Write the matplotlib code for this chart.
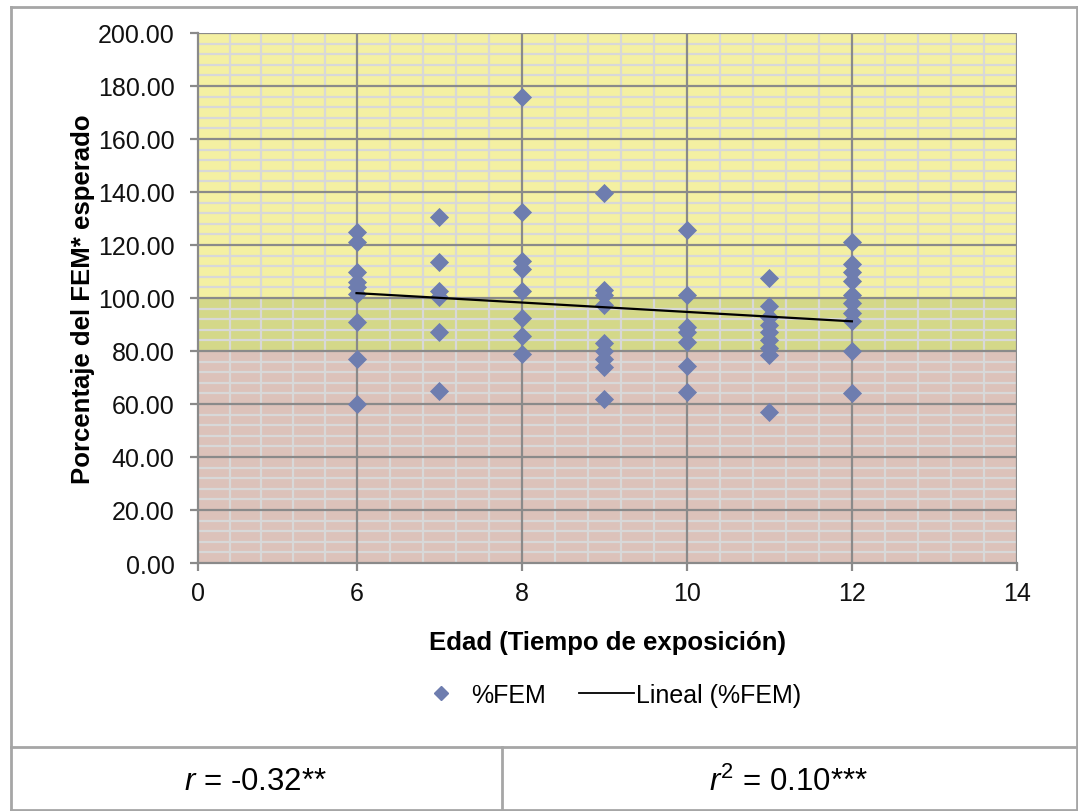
import numpy as np
import matplotlib
matplotlib.use('Agg')
import matplotlib.pyplot as plt
from matplotlib.ticker import FixedLocator, FixedFormatter
from matplotlib.lines import Line2D

plt.rcParams['font.family'] = ['Liberation Sans', 'DejaVu Sans']
plt.rcParams['mathtext.fontset'] = 'custom'
plt.rcParams['mathtext.rm'] = 'Liberation Sans'
plt.rcParams['mathtext.it'] = 'Liberation Sans:italic'

# edad (años) y %FEM esperado
edad_6 = [125, 121, 110, 106, 104, 101.5, 91, 77, 60]
edad_7 = [130.5, 113.5, 102.5, 100.5, 87, 65]
edad_8 = [176, 132.5, 114, 111, 102.5, 92.5, 85.5, 79]
edad_9 = [139.5, 103, 101, 97.5, 83, 80, 77, 74, 62]
edad_10 = [125.5, 101, 89, 87, 83.5, 74.5, 64.5]
edad_11 = [107.5, 97, 93, 90, 87, 84, 81, 78.5, 57]
edad_12 = [121, 113, 110, 106.5, 101, 98, 94.5, 91.5, 80, 64]
grupos = {6: edad_6, 7: edad_7, 8: edad_8, 9: edad_9, 10: edad_10, 11: edad_11, 12: edad_12}

tick_ages = [0, 6, 8, 10, 12, 14]
tick_labels = ['0', '6', '8', '10', '12', '14']
tick_pos = [0, 0.96, 1.96, 2.96, 3.96, 4.96]
y_ticks = np.arange(0, 201, 20)

edades = np.concatenate([[k] * len(v) for k, v in grupos.items()])
fem = np.concatenate([v for v in grupos.values()])

def to_pos(a):
    return np.interp(a, tick_ages, tick_pos)

fig = plt.figure(figsize=(10.78, 8.12), dpi=100)
ax = fig.add_axes([198 / 1078, 1 - 564 / 812, (1017 - 198) / 1078, (564 - 34) / 812])

# bandas de fondo
ax.axhspan(100, 200, color='#F4F0A2', zorder=0, lw=0)
ax.axhspan(80, 100, color='#D4D889', zorder=0, lw=0)
ax.axhspan(0, 80, color='#DCC2BA', zorder=0, lw=0)

ax.set_xlim(0, tick_pos[-1])
ax.set_ylim(0, 200)

# rejilla
minor_x = []
for a, b in zip(tick_pos[:-1], tick_pos[1:]):
    minor_x.extend(np.linspace(a, b, 6)[1:-1])
for xm in minor_x:
    ax.axvline(xm, color='#D8D8D8', lw=1.6, zorder=1)
for ym in np.arange(0, 201, 4):
    if ym % 20:
        ax.axhline(ym, color='#D8D8D8', lw=1.6, zorder=1)
for xp in tick_pos[1:]:
    ax.axvline(xp, color='#8A8A8A', lw=1.6, zorder=2)
for yt in y_ticks[1:]:
    ax.axhline(yt, color='#8A8A8A', lw=1.6, zorder=2)

ax.scatter(to_pos(edades), fem, marker='D', s=95, color='#6E7DAF', zorder=4,
           linewidths=0, label='%FEM')

# linea de tendencia (ajuste lineal)
m, b = np.polyfit(edades, fem, 1)
xt = np.array([6, 12])
ax.plot(to_pos(xt), m * xt + b, color='black', lw=1.6, zorder=5, label='Lineal (%FEM)')

ax.xaxis.set_major_locator(FixedLocator(tick_pos))
ax.xaxis.set_major_formatter(FixedFormatter(tick_labels))
ax.set_yticks(y_ticks)
ax.set_yticklabels(['%.2f' % v for v in y_ticks])

for s in ['top', 'right']:
    ax.spines[s].set_visible(False)
for s in ['left', 'bottom']:
    ax.spines[s].set_color('#8A8A8A')
    ax.spines[s].set_linewidth(1.6)
ax.tick_params(direction='out', length=6, width=1.6, color='#8A8A8A',
               labelsize=18, labelcolor='#111111')
ax.tick_params(axis='y', pad=11)
ax.tick_params(axis='x', pad=7)

ax.set_xlabel('Edad (Tiempo de exposición)', fontsize=18.5, fontweight='bold', va='center')
ax.xaxis.set_label_coords(0.5, -0.149)
ax.set_ylabel('Porcentaje del FEM* esperado', fontsize=18.5, fontweight='bold', va='center')
ax.yaxis.set_label_coords(-0.1404, 0.5)

handles = [Line2D([], [], marker='D', ls='none', color='#6E7DAF', ms=7),
           Line2D([], [], color='black', lw=1.3)]
fig.legend(handles, ['%FEM', 'Lineal (%FEM)'], loc='center', ncol=2,
           bbox_to_anchor=(607.5 / 1078, 1 - 696 / 812), frameon=False,
           fontsize=18, handlelength=2.2, handletextpad=0.1, columnspacing=1.3,
           borderpad=0)

# marco de tabla
gc = '#A6A6A6'
def fline(x0, y0, x1, y1):
    fig.add_artist(Line2D([x0 / 1078, x1 / 1078], [1 - y0 / 812, 1 - y1 / 812],
                          color=gc, lw=2))
fline(11, 8, 1077, 8)
fline(11, 8, 11, 812)
fline(1077, 8, 1077, 812)
fline(11, 748, 1077, 748)
fline(502, 748, 502, 812)
fline(11, 811, 1077, 811)

fig.text(256 / 1078, 1 - 782 / 812, r'$r$ = -0.32**', fontsize=22.5, ha='center', va='center')
fig.text(789 / 1078, 1 - 782 / 812, r'$r^2$ = 0.10***', fontsize=22.5, ha='center', va='center')

fig.savefig('out.png', dpi=100)
